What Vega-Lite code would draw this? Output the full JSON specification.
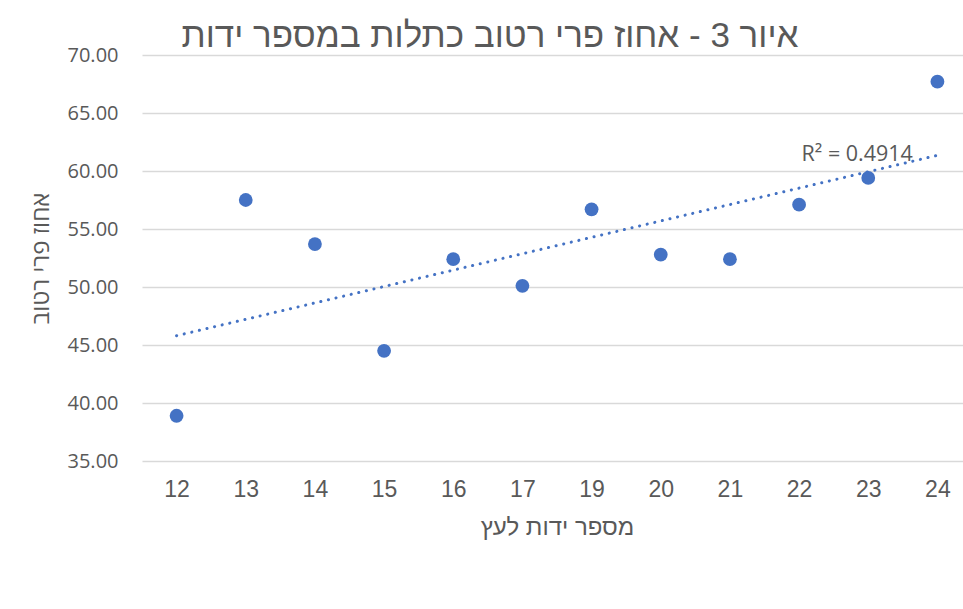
{
  "$schema": "https://vega.github.io/schema/vega-lite/v6.json",
  "autosize": {"type": "none"},
  "padding": {"left": 142, "top": 55, "right": 0, "bottom": 148},
  "width": 830,
  "height": 406,
  "background": "white",
  "config": {"view": {"stroke": null}},
  "title": {
    "text": "איור 3 - אחוז פרי רטוב כתלות במספר ידות",
    "font": "Liberation Sans",
    "fontSize": 35,
    "fontWeight": "normal",
    "color": "#595959",
    "anchor": "middle",
    "dx": -67,
    "offset": -9
  },
  "datasets": {
    "points": [
      {"ידות": "12", "אחוז": 38.9},
      {"ידות": "13", "אחוז": 57.5},
      {"ידות": "14", "אחוז": 53.7},
      {"ידות": "15", "אחוז": 44.5},
      {"ידות": "16", "אחוז": 52.4},
      {"ידות": "17", "אחוז": 50.1},
      {"ידות": "19", "אחוז": 56.7},
      {"ידות": "20", "אחוז": 52.8},
      {"ידות": "21", "אחוז": 52.4},
      {"ידות": "22", "אחוז": 57.1},
      {"ידות": "23", "אחוז": 59.4},
      {"ידות": "24", "אחוז": 67.7}
    ],
    "trend": [
      {"ידות": "12", "אחוז": 45.8},
      {"ידות": "24", "אחוז": 61.35}
    ],
    "r2": [
      {"ידות": "23", "אחוז": 61.4, "label": "R² = 0.4914"}
    ]
  },
  "encoding": {
    "x": {
      "field": "ידות",
      "type": "ordinal",
      "sort": ["12","13","14","15","16","17","19","20","21","22","23","24"],
      "scale": {"type": "point", "padding": 0.5,
        "domain": ["12","13","14","15","16","17","19","20","21","22","23","24"]},
      "axis": {
        "title": "מספר ידות לעץ",
        "titleFont": "Liberation Sans",
        "titleFontSize": 24,
        "titleFontWeight": "normal",
        "titleColor": "#595959",
        "titlePadding": 14,
        "labelAngle": 0,
        "labelFont": "Liberation Sans",
        "labelFontSize": 23,
        "labelColor": "#595959",
        "labelPadding": 17,
        "ticks": false,
        "domain": false,
        "grid": false
      }
    },
    "y": {
      "field": "אחוז",
      "type": "quantitative",
      "scale": {"domain": [35, 70], "zero": false, "nice": false},
      "axis": {
        "title": "אחוז פרי רטוב",
        "titleFont": "Open Sans",
        "titleFontSize": 24,
        "titleFontWeight": "normal",
        "titleColor": "#595959",
        "titlePadding": 14,
        "values": [35, 40, 45, 50, 55, 60, 65, 70],
        "format": ".2f",
        "labelFont": "Open Sans",
        "labelFontSize": 20,
        "labelColor": "#595959",
        "labelPadding": 24,
        "ticks": false,
        "domain": false,
        "grid": true,
        "gridColor": "#d9d9d9",
        "gridWidth": 1.5
      }
    }
  },
  "layer": [
    {
      "data": {"name": "trend"},
      "mark": {"type": "line", "color": "#4472C4", "strokeWidth": 3, "strokeDash": [0.1, 7.7], "strokeCap": "round"},
      "encoding": {}
    },
    {
      "data": {"name": "points"},
      "mark": {"type": "circle", "color": "#4472C4", "opacity": 1, "size": 190},
      "encoding": {}
    },
    {
      "data": {"name": "r2"},
      "mark": {"type": "text", "font": "Open Sans", "fontSize": 21.5, "color": "#595959", "dx": -11, "baseline": "middle"},
      "encoding": {"text": {"field": "label"}}
    }
  ]
}
